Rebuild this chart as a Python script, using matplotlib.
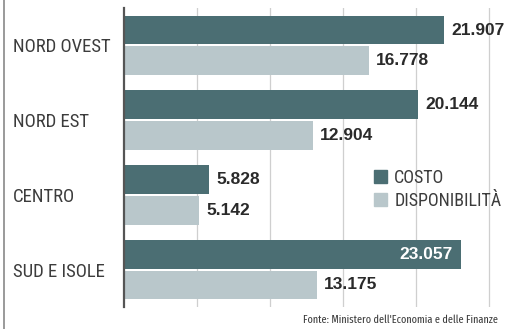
import matplotlib
matplotlib.use("Agg")
import matplotlib.pyplot as plt
from matplotlib.lines import Line2D
from matplotlib.patches import Patch
import numpy as np

# data
regions = ["NORD OVEST", "NORD EST", "CENTRO", "SUD E ISOLE"]
costo = [21907, 20144, 5828, 23057]
disponibilita = [16778, 12904, 5142, 13175]
series_labels = ["COSTO", "DISPONIBILITÀ"]
source = "Fonte: Ministero dell'Economia e delle Finanze"

DARK = "#4b6e73"
LIGHT = "#b9c7cb"
TEXT = "#3c3c3c"
NARROW = ["Roboto Condensed", "Fira Sans Condensed", "DejaVu Sans"]
BOLD = ["Liberation Sans", "DejaVu Sans"]
TINY = ["Fira Sans Extra Condensed", "Liberation Sans", "DejaVu Sans"]

W, H = 507, 329
fig = plt.figure(figsize=(W / 100, H / 100), dpi=100)
ax = fig.add_axes([124 / W, 1 - 307 / H, 1 - 124 / W, (307 - 8) / H])

y = np.arange(len(regions))
off, h = 0.205, 0.385
b1 = ax.barh(y - off, costo, height=h, color=DARK, zorder=2)
b2 = ax.barh(y + off, disponibilita, height=h, color=LIGHT, zorder=2)

ax.set_xlim(0, 26200)
ax.set_ylim(3.5, -0.5)
ax.set_xticks(np.arange(5000, 25001, 5000))
ax.xaxis.grid(True, color="#cfcfcf", linewidth=0.9, zorder=0)
ax.tick_params(axis="x", length=0, labelbottom=False)

ax.set_yticks(y)
ax.set_yticklabels(regions, family=NARROW, fontsize=13.5, color=TEXT)
ax.tick_params(axis="y", length=0, pad=80)
for lbl in ax.get_yticklabels():
    lbl.set_horizontalalignment("left")

for s in ["top", "right", "bottom"]:
    ax.spines[s].set_visible(False)
ax.spines["left"].set_color("#555555")
ax.spines["left"].set_linewidth(1.6)


def fmt(v):
    return f"{v:,}".replace(",", ".")


for bars, vals in [(b1, costo), (b2, disponibilita)]:
    for bar, v in zip(bars, vals):
        yc = bar.get_y() + bar.get_height() / 2
        if v > 22500:
            # label sits inside the longest bar
            ax.annotate(fmt(v), (v, yc), xytext=(-6, 0), textcoords="offset points",
                        ha="right", va="center", color="white", fontsize=12.5,
                        fontweight="bold", family=BOLD)
        else:
            ax.annotate(fmt(v), (v, yc), xytext=(5, 0), textcoords="offset points",
                        ha="left", va="center", color="#2a2a2a", fontsize=12.5,
                        fontweight="bold", family=BOLD)

handles = [Patch(color=DARK), Patch(color=LIGHT)]
leg = fig.legend(handles, series_labels, loc="upper left",
                 bbox_to_anchor=(374 / W, 1 - 169 / H), frameon=False,
                 borderpad=0, borderaxespad=0, handlelength=0.72, handleheight=0.72,
                 handletextpad=0.4, labelspacing=0.25,
                 prop={"family": NARROW, "size": 13})
for t in leg.get_texts():
    t.set_color(TEXT)

fig.text(498 / W, 1 - 320 / H, source, ha="right", va="center",
         fontsize=8, family=TINY, color=TEXT)

# thin page border on the left
fig.add_artist(Line2D([4 / W, 4 / W], [0, 1], transform=fig.transFigure,
                      color="#9a9a9a", linewidth=1.4))

fig.savefig("out.png", dpi=100)
